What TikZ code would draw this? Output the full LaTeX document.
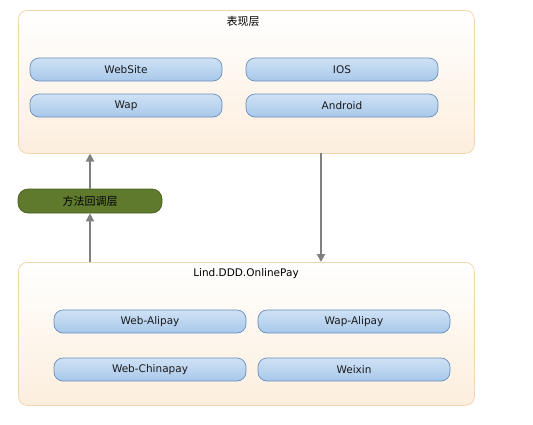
\documentclass[tikz,border=0pt]{standalone}
\usepackage{fontspec}
\setmainfont{DejaVu Sans}
\newfontfamily\cjk{Noto Sans CJK SC}
\usetikzlibrary{arrows.meta}
\definecolor{contborder}{HTML}{F3D6AE}
\definecolor{conttop}{HTML}{FFFFFF}
\definecolor{contbot}{HTML}{FCEEDD}
\definecolor{btntop}{HTML}{CFE2F5}
\definecolor{btnbot}{HTML}{A8C8EA}
\definecolor{btnborder}{HTML}{6A8FBD}
\definecolor{greenfill}{HTML}{5F7A2C}
\definecolor{greenborder}{HTML}{4A6020}
\definecolor{arrowgray}{HTML}{808080}
\definecolor{txt}{HTML}{1A1A1A}
\tikzset{
  container/.style={draw=contborder, line width=0.8pt, rounded corners=9pt, top color=conttop, bottom color=contbot},
  btn/.style={draw=btnborder, line width=0.7pt, rounded corners=9pt, top color=btntop, bottom color=btnbot, minimum width=192pt, minimum height=23pt, inner sep=0pt, font=\fontsize{10.5}{12}\selectfont, text=txt},
  greenbox/.style={draw=greenborder, line width=0.7pt, rounded corners=10pt, fill=greenfill, minimum width=144pt, minimum height=24pt, inner sep=0pt, font=\cjk\fontsize{11}{12}\selectfont, text=black},
  flow/.style={draw=arrowgray, line width=1.8pt, -{Triangle[length=8pt,width=8pt]}},
  ttl/.style={font=\fontsize{10.5}{12}\selectfont, text=black, inner sep=0pt}
}
\begin{document}
\begin{tikzpicture}[x=1pt,y=-1pt]
\useasboundingbox (0,0) rectangle (533,424);
% top container
\node[container, anchor=north west, minimum width=456pt, minimum height=143pt, inner sep=0pt] (top) at (18,10) {};
\node[ttl, font=\cjk\fontsize{11}{12}\selectfont] (toptitle) at (243,21) {表现层};
\node[btn] (website) at (126,69.5) {WebSite};
\node[btn] (ios) at (342,69.5) {IOS};
\node[btn] (wap) at (126,105.5) {Wap};
\node[btn] (android) at (342,105.5) {Android};
% green
\node[greenbox] (callback) at (90,201) {方法回调层};
% bottom container
\node[container, anchor=north west, minimum width=456pt, minimum height=143pt, inner sep=0pt] (bot) at (18,262) {};
\node[ttl] (bottitle) at (246,274) {Lind.DDD.OnlinePay};
\node[btn] (webali) at (150,321.5) {Web-Alipay};
\node[btn] (wapali) at (354,321.5) {Wap-Alipay};
\node[btn] (webchina) at (150,369.5) {Web-Chinapay};
\node[btn] (weixin) at (354,369.5) {Weixin};
% arrows
\coordinate (a1s) at (90,262);
\coordinate (a2e) at (90,153.5);
\coordinate (a3s) at (321,153);
\coordinate (a3e) at (321,262);
\draw[flow] (a1s) -- (callback.south);
\draw[flow] (callback.north) -- (a2e);
\draw[flow] (a3s) -- (a3e);
\end{tikzpicture}
\end{document}
